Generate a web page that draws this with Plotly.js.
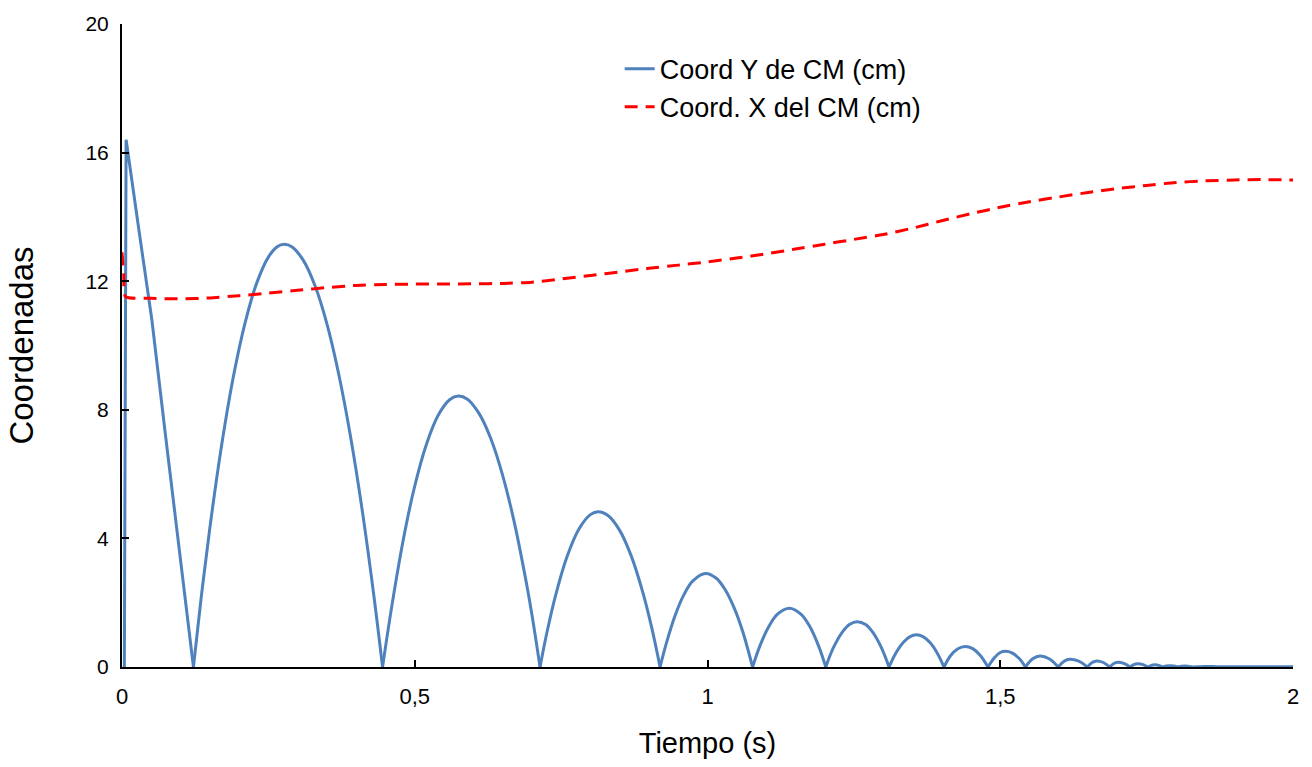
<!DOCTYPE html>
<html>
<head>
<meta charset="utf-8">
<script src="https://cdn.plot.ly/plotly-3.0.1.min.js"></script>
<style>html,body{margin:0;padding:0;background:#fff;}#chart{width:1312px;height:767px;}</style>
</head>
<body>
<div id="chart"></div>
<script>
// Coord Y de CM (cm)
var tY = [0.004, 0.007, 0.03, 0.051, 0.075, 0.1, 0.122,
  0.135, 0.15, 0.17, 0.19, 0.21, 0.23, 0.25, 0.265, 0.277, 0.29, 0.31, 0.33, 0.35, 0.37, 0.39, 0.41, 0.43, 0.445,
  0.46, 0.48, 0.50, 0.52, 0.54, 0.56, 0.5744, 0.59, 0.61, 0.63, 0.65, 0.67, 0.69, 0.70, 0.714,
  0.725, 0.74, 0.76, 0.78, 0.80, 0.8135, 0.83, 0.85, 0.87, 0.89, 0.905, 0.919,
  0.93, 0.945, 0.96, 0.975, 0.997, 1.015, 1.03, 1.045, 1.06, 1.077,
  1.09, 1.105, 1.12, 1.14, 1.16, 1.175, 1.19, 1.202,
  1.215, 1.23, 1.243, 1.256, 1.27, 1.283, 1.297, 1.310,
  1.322, 1.335, 1.346, 1.357, 1.368, 1.38, 1.392, 1.404,
  1.415, 1.427, 1.44, 1.453, 1.466, 1.479,
  1.49, 1.5, 1.509, 1.52, 1.532, 1.543,
  1.5555, 1.568, 1.5835, 1.599,
  1.609, 1.619, 1.634, 1.649,
  1.657, 1.665, 1.676, 1.687,
  1.694, 1.701, 1.711, 1.7216,
  1.728, 1.735, 1.744, 1.7523,
  1.758, 1.764, 1.771, 1.778,
  1.784, 1.79, 1.796, 1.802,
  1.815, 1.828, 1.85, 1.87, 1.9, 1.95, 2.0];
var yY = [0, 16.4, 13.45, 10.8, 7.1, 3.3, 0,
  2.12, 4.32, 6.88, 9.01, 10.69, 11.94, 12.75, 13.07, 13.15, 13.07, 12.64, 11.84, 10.67, 9.12, 7.2, 4.91, 2.24, 0,
  1.80, 3.92, 5.63, 6.93, 7.83, 8.32, 8.43, 8.33, 7.88, 7.10, 5.97, 4.50, 2.68, 1.64, 0,
  1.01, 2.19, 3.43, 4.28, 4.74, 4.83, 4.71, 4.25, 3.44, 2.29, 1.20, 0,
  0.76, 1.62, 2.26, 2.68, 2.91, 2.76, 2.41, 1.86, 1.11, 0,
  0.68, 1.27, 1.65, 1.83, 1.64, 1.25, 0.64, 0,
  0.60, 1.08, 1.33, 1.41, 1.32, 1.06, 0.60, 0,
  0.445, 0.78, 0.945, 1.0, 0.945, 0.76, 0.445, 0,
  0.35, 0.56, 0.64, 0.57, 0.36, 0,
  0.29, 0.45, 0.49, 0.44, 0.27, 0,
  0.255, 0.34, 0.255, 0,
  0.18, 0.24, 0.18, 0,
  0.14, 0.19, 0.14, 0,
  0.11, 0.15, 0.11, 0,
  0.075, 0.1, 0.075, 0,
  0.05, 0.07, 0.05, 0,
  0.03, 0.04, 0.03, 0,
  0.03, 0, 0.015, 0.01, 0.01, 0.01, 0.01];

// Coord. X del CM (cm)
var tX = [0, 0.003, 0.006, 0.05, 0.1, 0.15, 0.2, 0.25, 0.3, 0.35, 0.4, 0.45, 0.5, 0.55, 0.6, 0.65, 0.7, 0.75, 0.8, 0.85, 0.9, 0.95,
  1.0, 1.05, 1.1, 1.15, 1.2, 1.25, 1.3, 1.35, 1.4, 1.45, 1.5, 1.55, 1.6, 1.65, 1.7, 1.75, 1.8, 1.85, 1.9, 1.95, 2.0];
var yX = [12.9, 12.2, 11.52, 11.47, 11.45, 11.48, 11.55, 11.63, 11.72, 11.8, 11.87, 11.9, 11.91, 11.91, 11.92, 11.93, 11.97, 12.07, 12.18, 12.29, 12.4, 12.5,
  12.6, 12.72, 12.85, 13.0, 13.15, 13.3, 13.45, 13.65, 13.88, 14.1, 14.3, 14.47, 14.62, 14.76, 14.88, 14.98, 15.07, 15.12, 15.15, 15.16, 15.15];

var seriesNames = ['Coord Y de CM (cm)', 'Coord. X del CM (cm)'];
var xTickVals = [0, 0.5, 1, 1.5, 2];
var xTickText = ['0', '0,5', '1', '1,5', '2'];
var yTickVals = [0, 4, 8, 12, 16, 20];
var yTickText = ['0', '4', '8', '12', '16', '20'];

var blue = '#4F81BD';
var traces = [];
// split the Y series into its bounces (each bounce drawn as a smooth arc, sharp at the floor)
var start = 0, seg = 0;
for (var i = 1; i < yY.length; i++) {
  if (yY[i] === 0 || i === yY.length - 1) {
    traces.push({x: tY.slice(start, i + 1), y: yY.slice(start, i + 1), type: 'scatter', mode: 'lines',
      name: seriesNames[0], legendgroup: 'y', showlegend: seg === 0,
      line: {color: blue, width: 3, shape: seg === 0 ? 'linear' : 'spline', smoothing: 1}});
    start = i; seg++;
  }
}
traces.push({x: tX, y: yX, name: seriesNames[1], type: 'scatter', mode: 'lines', legendgroup: 'x',
   line: {color: '#FF0000', width: 3, dash: '13px,8px', shape: 'spline', smoothing: 0.6}});

var font = 'Liberation Sans, Arial, sans-serif';
var layout = {
  width: 1312, height: 767,
  margin: {l: 122, r: 19, t: 24, b: 100},
  paper_bgcolor: '#fff', plot_bgcolor: '#fff',
  showlegend: true,
  legend: {x: 0.425, y: 0.968, xanchor: 'left', yanchor: 'top', bgcolor: 'rgba(0,0,0,0)',
           font: {family: font, size: 27, color: '#000'}, tracegroupgap: 0, itemwidth: 30},
  xaxis: {range: [0, 2], tickvals: xTickVals, ticktext: xTickText, showgrid: false, zeroline: false,
          showline: true, linecolor: '#000', linewidth: 2, ticks: 'inside', ticklen: 7, tickwidth: 2, tickcolor: '#000',
          tickfont: {family: font, size: 22, color: '#000'}, ticklabelstandoff: 9,
          title: {text: 'Tiempo (s)', font: {family: font, size: 29, color: '#000'}, standoff: 24}},
  yaxis: {range: [0, 20], tickvals: yTickVals, ticktext: yTickText, showgrid: false, zeroline: false,
          showline: true, linecolor: '#000', linewidth: 2, ticks: 'inside', ticklen: 7, tickwidth: 2, tickcolor: '#000',
          tickfont: {family: font, size: 21, color: '#000'}, ticklabelstandoff: 7,
          title: {text: 'Coordenadas', font: {family: font, size: 33, color: '#000'}, standoff: 42}}
};
Plotly.newPlot('chart', traces, layout, {displayModeBar: false, staticPlot: true});
</script>
</body>
</html>
